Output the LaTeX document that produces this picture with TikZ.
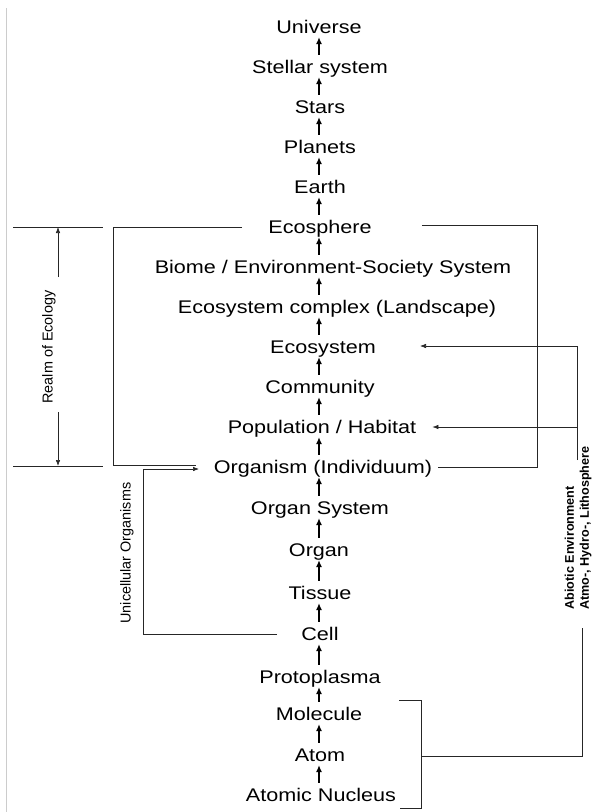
\documentclass[tikz,border=0pt]{standalone}
\usepackage{fontspec}
\setmainfont{Liberation Sans}
\newfontfamily\levelfont{Liberation Sans}[FakeStretch=1.18]
\usetikzlibrary{arrows.meta, positioning, calc}

\tikzset{
  levelbox/.style={font=\levelfont\fontsize{18.3}{20}\selectfont, inner sep=0pt, text height=13.1pt, text depth=0pt},
  uparrow/.style={-{Latex[length=7pt,width=6pt]}, line width=1.6pt, shorten <=5.3pt, shorten >=3.3pt},
  link/.style={line width=0.6pt, black!85},
  linkarrow/.style={link, -{Latex[length=6pt,width=4.5pt]}},
  sidelabel/.style={font=\fontsize{14.4}{16}\selectfont, rotate=90, inner sep=0pt}
}

\begin{document}
\begin{tikzpicture}[x=1pt, y=-1pt]
\useasboundingbox (0,0) rectangle (605,812);

% page edge
\draw[black!20, line width=0.6pt] (6,8) -- (6,812);

% Levels of organisation
\coordinate (axis) at (319,0);
\node[levelbox] (universe) at (319,27) {Universe};
\node[levelbox] (stellar) at (320,67) {Stellar system};
\node[levelbox] (stars) at (320,107) {Stars};
\node[levelbox] (planets) at (320,147) {Planets};
\node[levelbox] (earth) at (320,187) {Earth};
\node[levelbox] (ecosphere) at (320,227) {Ecosphere};
\node[levelbox] (biome) at (333,267) {Biome / Environment-Society System};
\node[levelbox] (complex) at (337,307) {Ecosystem complex (Landscape)};
\node[levelbox] (ecosystem) at (323,347) {Ecosystem};
\node[levelbox] (community) at (320,387) {Community};
\node[levelbox] (population) at (322,427) {Population / Habitat};
\node[levelbox] (organism) at (323,467) {Organism (Individuum)};
\node[levelbox] (organsys) at (320,508) {Organ System};
\node[levelbox] (organ) at (319,550) {Organ};
\node[levelbox] (tissue) at (320,593) {Tissue};
\node[levelbox] (cell) at (320,634) {Cell};
\node[levelbox] (protoplasma) at (320,677) {Protoplasma};
\node[levelbox] (molecule) at (319,714) {Molecule};
\node[levelbox] (atom) at (320,755) {Atom};
\node[levelbox] (nucleus) at (321,795) {Atomic Nucleus};

% Arrows between levels
\foreach \lo/\hi in {stellar/universe, stars/stellar, planets/stars, earth/planets,
  ecosphere/earth, biome/ecosphere, complex/biome, ecosystem/complex,
  community/ecosystem, population/community, organism/population,
  organsys/organism, organ/organsys, tissue/organ, cell/tissue,
  protoplasma/cell, molecule/protoplasma, atom/molecule, nucleus/atom}
  \draw[uparrow] (\lo.north -| axis) -- (\hi.south -| axis);

% Realm of Ecology
\draw[link] (13,227) -- (103,227);
\draw[link] (13,466) -- (103,466);
\node[sidelabel] (realm) at (49,347) {Realm of Ecology};
\draw[linkarrow] (58,277) -- (58,227);
\draw[linkarrow] (58,412) -- (58,466);

% Ecology bracket, left and right
\draw[link] ($(ecosphere.west)+(-26,0)$) -| (113,465) -- (196,465);
\draw[link] ($(ecosphere.east)+(50,-2)$) -| (537,467) -- ($(organism.east)+(6,0)$);

% Unicellular Organisms
\node[sidelabel] (unicell) at (127,553) {Unicellular Organisms};
\draw[linkarrow] ($(cell.west)+(-24,0)$) -| (143,469) -- (199,469);

% Abiotic Environment
\node[rotate=90, inner sep=0pt, align=left, font=\bfseries\fontsize{12.6}{15}\selectfont]
  (abiotic) at (578,528) {Abiotic Environment\\Atmo-, Hydro-, Lithosphere};
\draw[link] (577,460) -- (577,346);
\draw[linkarrow] (577,346) -- ($(ecosystem.east)+(44,-1)$);
\draw[linkarrow] (577,427) -- ($(population.east)+(16,0)$);
\draw[link] ($(molecule.east)+(37,-14)$) -| (421,808) -- ($(nucleus.east)+(4,13)$);
\draw[link] (421,756) -| (582,628);
\end{tikzpicture}
\end{document}
